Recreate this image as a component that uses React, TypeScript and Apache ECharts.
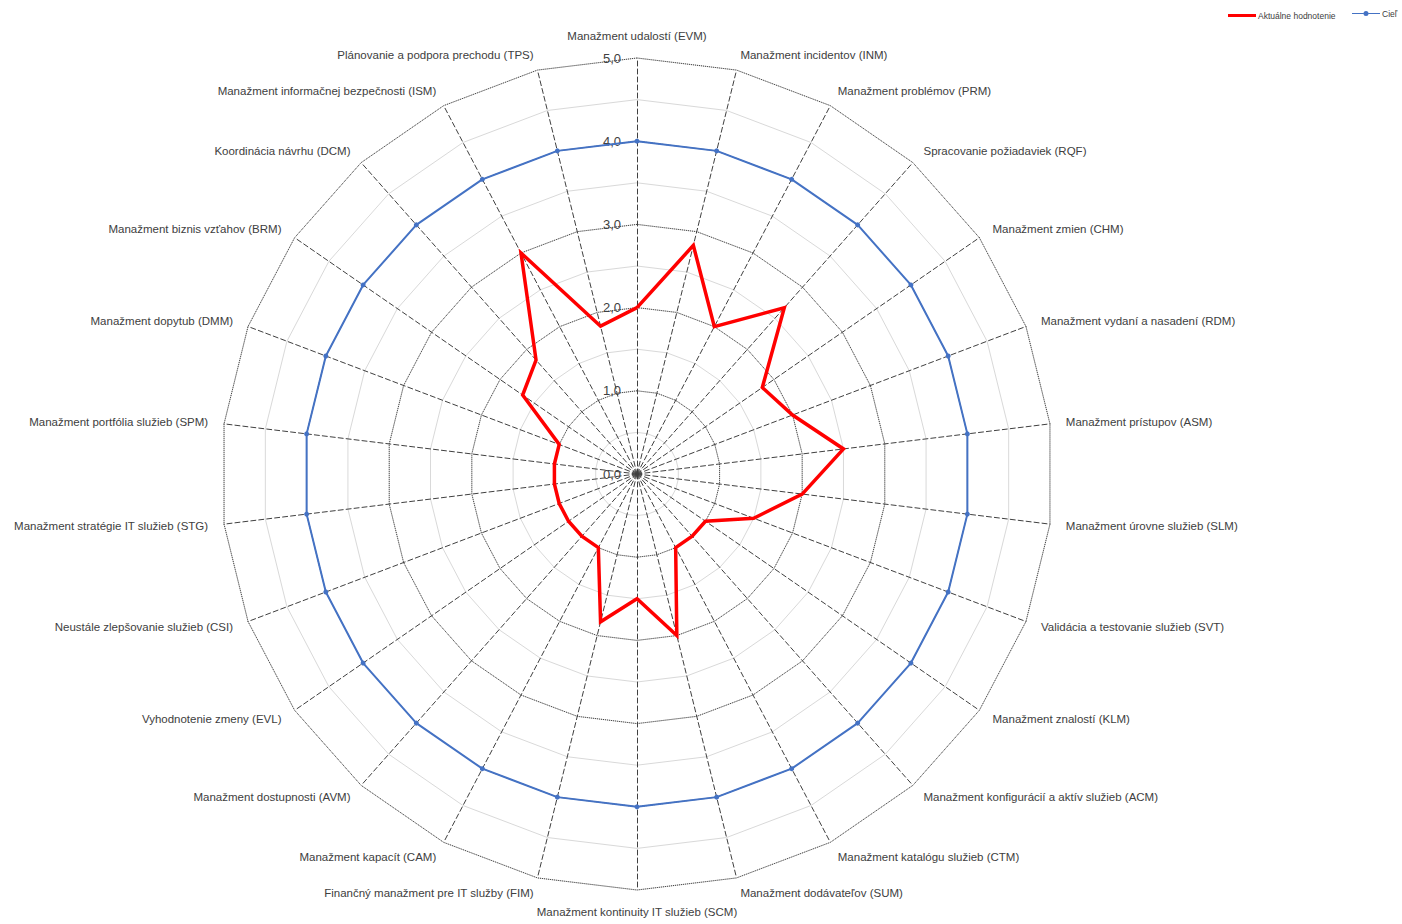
import React, { useEffect, useRef } from "react";
import * as echarts from "echarts";

const categories = [
  "Manažment udalostí (EVM)",
  "Manažment incidentov (INM)",
  "Manažment problémov (PRM)",
  "Spracovanie požiadaviek (RQF)",
  "Manažment zmien (CHM)",
  "Manažment vydaní a nasadení (RDM)",
  "Manažment prístupov (ASM)",
  "Manažment úrovne služieb (SLM)",
  "Validácia a testovanie služieb (SVT)",
  "Manažment znalostí (KLM)",
  "Manažment konfigurácií a aktív služieb (ACM)",
  "Manažment katalógu služieb (CTM)",
  "Manažment dodávateľov (SUM)",
  "Manažment kontinuity IT služieb (SCM)",
  "Finančný manažment pre IT služby (FIM)",
  "Manažment kapacít (CAM)",
  "Manažment dostupnosti (AVM)",
  "Vyhodnotenie zmeny (EVL)",
  "Neustále zlepšovanie služieb (CSI)",
  "Manažment stratégie IT služieb (STG)",
  "Manažment portfólia služieb (SPM)",
  "Manažment dopytub (DMM)",
  "Manažment biznis vzťahov (BRM)",
  "Koordinácia návrhu (DCM)",
  "Manažment informačnej bezpečnosti (ISM)",
  "Plánovanie a podpora prechodu (TPS)",
];

const actualValues = [
  2.0, 2.83, 2.0, 2.67, 1.83, 2.0, 2.5, 2.0, 1.5, 1.0, 1.0, 1.0, 2.0,
  1.5, 1.83, 1.0, 1.0, 1.0, 1.0, 1.0, 1.0, 1.0, 1.67, 1.83, 3.0, 1.83,
];

const targetValues = [
  4, 4, 4, 4, 4, 4, 4, 4, 4, 4, 4, 4, 4,
  4, 4, 4, 4, 4, 4, 4, 4, 4, 4, 4, 4, 4,
];

const tickLabels = ["0,0", "1,0", "2,0", "3,0", "4,0", "5,0"];

const seriesNames = ["Aktuálne hodnotenie", "Cieľ"];

const AXIS_MAX = 5;

// ECharts radar runs counter-clockwise; reorder so the categories run clockwise from the top.
function clockwise<T>(arr: T[]): T[] {
  return [arr[0], ...arr.slice(1).reverse()];
}

export default function App() {
  const ref = useRef<HTMLDivElement>(null);

  useEffect(() => {
    if (!ref.current) return;
    const chart = echarts.init(ref.current, undefined, { renderer: "svg" });

    const center = [637, 474];
    const radius = 416;

    const cats = clockwise(categories);
    const lightIndicators = cats.map((c) => ({ name: c, max: AXIS_MAX, min: 0 }));
    const mainIndicators = cats.map((c, i) =>
      i === 0
        ? { name: c, max: AXIS_MAX, min: 0, axisLabel: { show: true } }
        : { name: c, max: AXIS_MAX, min: 0 }
    );

    chart.setOption({
      animation: false,
      backgroundColor: "#ffffff",
      textStyle: { fontFamily: "Liberation Sans, Arial, sans-serif" },
      legend: [
        {
          left: 1223,
          top: 6,
          itemWidth: 28,
          itemHeight: 3,
          itemGap: 10,
          icon: "rect",
          data: [seriesNames[0]],
          textStyle: { fontSize: 8.5, color: "#404040", padding: [0, 0, 0, -3] },
        },
        {
          left: 1347,
          top: 4,
          itemWidth: 28,
          itemHeight: 5,
          data: [
            {
              name: seriesNames[1],
              icon:
                "path://M0,2 L11.5,2 L11.5,3 L0,3 Z M11.5,2.5 a2.5,2.5 0 1,0 5,0 a2.5,2.5 0 1,0 -5,0 Z M16.5,2 L28,2 L28,3 L16.5,3 Z",
            },
          ],
          textStyle: { fontSize: 8.5, color: "#404040", padding: [0, 0, 0, -3] },
        },
      ],
      radar: [
        {
          center,
          radius,
          startAngle: 90,
          splitNumber: 10,
          shape: "polygon",
          indicator: lightIndicators,
          axisName: { show: false },
          axisLine: { show: false },
          axisTick: { show: false },
          axisLabel: { show: false },
          splitArea: { show: false },
          splitLine: { lineStyle: { color: "#d9d9d9", width: 1, type: "solid" } },
          silent: true,
        },
        {
          center,
          radius,
          startAngle: 90,
          splitNumber: 5,
          shape: "polygon",
          indicator: mainIndicators,
          nameGap: 16,
          axisName: {
            color: "#404040",
            fontSize: 11.5,
            fontFamily: "Liberation Sans, Arial, sans-serif",
          },
          axisLine: {
            show: true,
            lineStyle: { color: "#404040", width: 1, type: [5, 3] },
          },
          axisTick: { show: false },
          axisLabel: {
            show: false,
            color: "#404040",
            fontSize: 13,
            margin: 16,
            formatter: (v: number) => tickLabels[Math.round(v)] ?? "",
          },
          splitArea: { show: false },
          splitLine: { lineStyle: { color: "#404040", width: 1, type: "dotted" } },
        },
      ],
      series: [
        {
          type: "radar",
          radarIndex: 1,
          name: seriesNames[1],
          symbol: "circle",
          symbolSize: 5,
          z: 3,
          lineStyle: { color: "#4472C4", width: 2 },
          itemStyle: { color: "#4472C4" },
          data: [{ name: seriesNames[1], value: clockwise(targetValues) }],
        },
        {
          type: "radar",
          radarIndex: 1,
          name: seriesNames[0],
          symbol: "none",
          z: 4,
          lineStyle: { color: "#FF0000", width: 3.5, join: "miter" },
          itemStyle: { color: "#FF0000" },
          data: [{ name: seriesNames[0], value: clockwise(actualValues) }],
        },
      ],
    });

    return () => chart.dispose();
  }, []);

  return (
    <div
      ref={ref}
      style={{ position: "fixed", left: 0, top: 0, width: 1402, height: 924, background: "#fff" }}
    />
  );
}
